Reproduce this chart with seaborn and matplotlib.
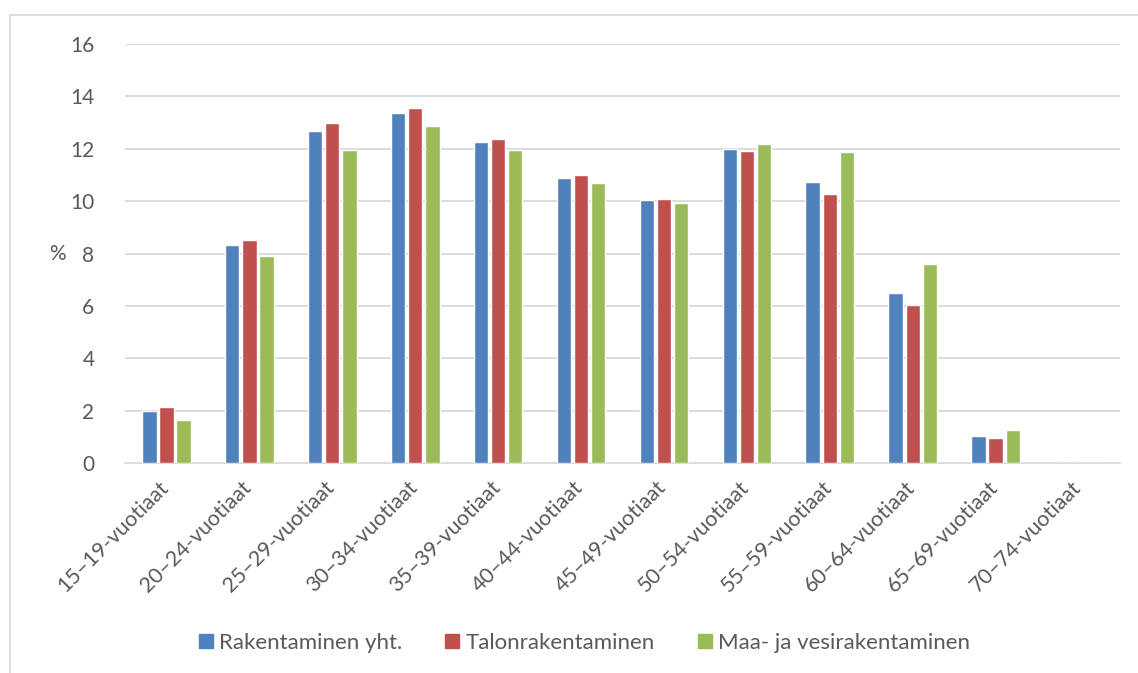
import matplotlib
matplotlib.use("Agg")
import matplotlib.pyplot as plt
import matplotlib.transforms as mtransforms
from matplotlib.lines import Line2D
import seaborn as sns
import pandas as pd

# Age groups and shares (%) of employees per construction sector
age_groups = ["15–19-vuotiaat", "20–24-vuotiaat", "25–29-vuotiaat", "30–34-vuotiaat",
              "35–39-vuotiaat", "40–44-vuotiaat", "45–49-vuotiaat", "50–54-vuotiaat",
              "55–59-vuotiaat", "60–64-vuotiaat", "65–69-vuotiaat", "70–74-vuotiaat"]
series_names = ["Rakentaminen yht.", "Talonrakentaminen", "Maa- ja vesirakentaminen"]
rakentaminen = [2.0, 8.32, 12.69, 13.35, 12.26, 10.89, 10.04, 11.99, 10.72, 6.48, 1.04, 0.0]
talonrakentaminen = [2.14, 8.51, 12.99, 13.55, 12.38, 11.0, 10.09, 11.91, 10.26, 6.03, 0.95, 0.0]
maa_vesi = [1.65, 7.9, 11.94, 12.86, 11.96, 10.7, 9.92, 12.17, 11.89, 7.59, 1.25, 0.0]
y_ticks = [0, 2, 4, 6, 8, 10, 12, 14, 16]

colors = ["#4F81BD", "#C0504D", "#9BBB59"]
text_color = "#595959"
grid_color = "#D9D9D9"

df = pd.DataFrame({
    "ika": age_groups * 3,
    "sarja": sum([[s] * len(age_groups) for s in series_names], []),
    "osuus": rakentaminen + talonrakentaminen + maa_vesi,
})

sns.set_theme(style="white")
plt.rcParams["font.family"] = ["Lato", "DejaVu Sans"]
fs = 15

fig = plt.figure(figsize=(11.38, 6.73), dpi=100)
ax = fig.add_axes([125 / 1138, 1 - 463 / 673, (1120 - 125) / 1138, (463 - 44) / 673])

sns.barplot(data=df, x="ika", y="osuus", hue="sarja", hue_order=series_names,
            order=age_groups, palette=colors, width=0.62, gap=0.16,
            saturation=1, ax=ax, legend=False, zorder=3)

ax.set_ylim(0, 16)
ax.set_xlim(-0.5, len(age_groups) - 0.5)
ax.set_yticks(y_ticks)
ax.set_yticklabels([str(t) for t in y_ticks], color=text_color, fontsize=fs)
ax.yaxis.grid(True, color=grid_color, linewidth=1.3, zorder=0)
ax.set_axisbelow(True)
for side in ["top", "right", "left"]:
    ax.spines[side].set_visible(False)
ax.spines["bottom"].set_color(grid_color)
ax.spines["bottom"].set_linewidth(1.3)
ax.tick_params(axis="both", length=0, pad=22)
ax.tick_params(axis="x", pad=10)

ax.set_xticks(range(len(age_groups)))
ax.set_xticklabels(age_groups, rotation=45, ha="right", rotation_mode="anchor",
                   color=text_color, fontsize=15.5)
# nudge the slanted labels slightly left so they end under the group centre
shift = mtransforms.ScaledTranslation(-8 / 100, 0, fig.dpi_scale_trans)
for lbl in ax.get_xticklabels():
    lbl.set_transform(lbl.get_transform() + shift)
ax.set_xlabel("")
ax.set_ylabel("%", rotation=0, color=text_color, fontsize=fs, va="center")
ax.yaxis.set_label_coords(-0.068, 0.5)

handles = [Line2D([0], [0], marker="s", linestyle="none", markersize=10,
                  markerfacecolor=c, markeredgecolor=c) for c in colors]
fig.legend(handles, series_names, loc="center", bbox_to_anchor=(584 / 1138, 1 - 643 / 673),
           ncol=3, frameon=False, fontsize=16, labelcolor=text_color,
           handletextpad=0.25, columnspacing=1.9, handlelength=0.7)

# Chart frame (top and left edges)
fig.add_artist(Line2D([10 / 1138, 1.0], [1 - 15 / 673, 1 - 15 / 673],
                      color=grid_color, linewidth=1.3, transform=fig.transFigure))
fig.add_artist(Line2D([10 / 1138, 10 / 1138], [1 - 15 / 673, 0.0],
                      color=grid_color, linewidth=1.3, transform=fig.transFigure))

fig.savefig("out.png", dpi=100, facecolor="white")
